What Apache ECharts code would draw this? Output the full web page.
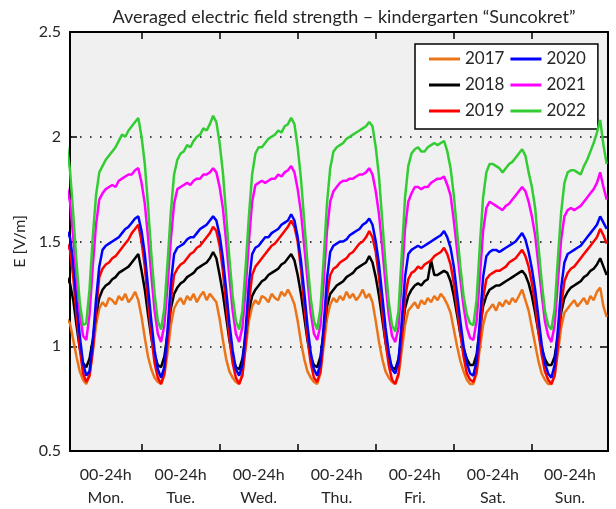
<!DOCTYPE html>
<html>
<head>
<meta charset="utf-8">
<script src="https://cdn.jsdelivr.net/npm/echarts@6/dist/echarts.min.js"></script>
<style>
html,body{margin:0;padding:0;background:#fff;}
#c{width:616px;height:509px;}
</style>
</head>
<body>
<div id="c"></div>
<script>
// Hourly values, Monday 00h .. Sunday 23h (x = hour of week)
const years = ['2017', '2018', '2019', '2020', '2021', '2022'];
const dayNames = ['Mon.', 'Tue.', 'Wed.', 'Thu.', 'Fri.', 'Sat.', 'Sun.'];
const dayTicks = [24, 48, 72, 96, 120, 144];
const labelPos = [13, 36, 60, 84, 108, 132, 155.7];

const y2017 = [
  1.16,1.13,1.11,1.03,0.95,0.88,0.84,0.82,0.86,0.97,1.10,1.18,1.21,1.19,1.23,1.22,1.20,1.24,1.22,1.25,1.21,1.23,1.26,1.22,
  1.14,1.04,0.95,0.89,0.85,0.83,0.82,0.86,0.97,1.10,1.18,1.21,1.23,1.20,1.24,1.22,1.25,1.21,1.24,1.26,1.22,1.25,1.23,1.21,
  1.13,1.03,0.94,0.88,0.85,0.83,0.82,0.87,0.99,1.12,1.19,1.22,1.20,1.24,1.23,1.21,1.25,1.23,1.22,1.26,1.24,1.27,1.24,1.20,
  1.12,1.02,0.94,0.88,0.85,0.83,0.82,0.87,1.00,1.13,1.20,1.23,1.21,1.24,1.22,1.26,1.23,1.25,1.22,1.24,1.27,1.23,1.25,1.21,
  1.12,1.02,0.94,0.88,0.85,0.83,0.82,0.86,0.98,1.10,1.17,1.19,1.21,1.18,1.22,1.20,1.23,1.21,1.24,1.22,1.25,1.23,1.20,1.16,
  1.08,1.00,0.93,0.88,0.84,0.82,0.82,0.87,0.99,1.10,1.16,1.18,1.20,1.17,1.21,1.19,1.22,1.20,1.23,1.21,1.24,1.27,1.22,1.17,
  1.09,1.01,0.93,0.87,0.84,0.82,0.82,0.86,0.97,1.09,1.16,1.18,1.20,1.22,1.19,1.21,1.23,1.20,1.24,1.22,1.26,1.28,1.19,1.14
];
const y2018 = [
  1.35,1.33,1.30,1.22,1.10,0.99,0.92,0.90,0.94,1.03,1.15,1.23,1.27,1.29,1.30,1.32,1.33,1.35,1.36,1.37,1.38,1.40,1.42,1.44,
  1.36,1.27,1.15,1.04,0.96,0.91,0.90,0.95,1.06,1.18,1.25,1.28,1.30,1.31,1.33,1.34,1.35,1.37,1.38,1.39,1.40,1.42,1.45,1.42,
  1.34,1.25,1.14,1.03,0.95,0.90,0.89,0.94,1.05,1.17,1.24,1.27,1.29,1.31,1.32,1.34,1.35,1.36,1.37,1.39,1.40,1.42,1.44,1.41,
  1.34,1.25,1.14,1.03,0.95,0.91,0.90,0.95,1.07,1.19,1.25,1.27,1.29,1.30,1.31,1.33,1.34,1.35,1.37,1.38,1.39,1.40,1.43,1.40,
  1.33,1.24,1.13,1.02,0.94,0.90,0.89,0.94,1.06,1.18,1.24,1.27,1.29,1.30,1.29,1.31,1.32,1.41,1.34,1.34,1.35,1.36,1.35,1.31,
  1.24,1.15,1.06,0.99,0.94,0.91,0.91,0.96,1.08,1.19,1.24,1.27,1.28,1.29,1.29,1.30,1.31,1.32,1.33,1.34,1.35,1.36,1.34,1.30,
  1.24,1.16,1.07,0.99,0.94,0.91,0.91,0.95,1.05,1.16,1.23,1.26,1.28,1.29,1.30,1.31,1.33,1.34,1.36,1.37,1.39,1.42,1.38,1.34
];
const y2019 = [
  1.52,1.49,1.46,1.33,1.15,0.99,0.87,0.83,0.86,0.98,1.17,1.33,1.37,1.39,1.40,1.42,1.43,1.45,1.47,1.49,1.51,1.54,1.56,1.58,
  1.50,1.38,1.21,1.05,0.92,0.85,0.82,0.87,1.02,1.22,1.34,1.37,1.39,1.40,1.42,1.44,1.45,1.47,1.48,1.50,1.52,1.54,1.57,1.55,
  1.48,1.36,1.20,1.04,0.92,0.85,0.82,0.86,1.01,1.21,1.34,1.38,1.40,1.42,1.44,1.46,1.48,1.49,1.51,1.53,1.55,1.57,1.60,1.57,
  1.50,1.37,1.20,1.04,0.92,0.85,0.83,0.88,1.04,1.24,1.34,1.37,1.38,1.40,1.41,1.42,1.44,1.45,1.47,1.49,1.50,1.52,1.55,1.52,
  1.45,1.33,1.17,1.02,0.91,0.84,0.82,0.87,1.04,1.23,1.32,1.35,1.36,1.38,1.37,1.39,1.40,1.41,1.43,1.44,1.45,1.47,1.44,1.39,
  1.30,1.18,1.06,0.95,0.87,0.84,0.83,0.88,1.04,1.23,1.32,1.34,1.35,1.36,1.36,1.37,1.38,1.40,1.41,1.42,1.44,1.46,1.43,1.38,
  1.30,1.20,1.07,0.96,0.88,0.84,0.82,0.86,1.00,1.19,1.31,1.35,1.37,1.38,1.40,1.42,1.44,1.46,1.48,1.50,1.52,1.56,1.53,1.49
];
const y2020 = [
  1.58,1.55,1.52,1.40,1.22,1.05,0.92,0.86,0.88,1.02,1.22,1.38,1.46,1.48,1.49,1.50,1.51,1.52,1.54,1.56,1.57,1.59,1.61,1.62,
  1.55,1.44,1.28,1.12,0.98,0.89,0.85,0.90,1.08,1.30,1.44,1.47,1.48,1.49,1.51,1.52,1.52,1.54,1.56,1.57,1.58,1.60,1.62,1.60,
  1.53,1.42,1.27,1.11,0.98,0.89,0.86,0.91,1.08,1.30,1.44,1.47,1.48,1.50,1.52,1.52,1.54,1.55,1.56,1.58,1.59,1.60,1.63,1.60,
  1.52,1.41,1.26,1.10,0.97,0.89,0.86,0.92,1.10,1.32,1.45,1.48,1.49,1.50,1.50,1.51,1.53,1.54,1.55,1.56,1.58,1.59,1.61,1.58,
  1.50,1.39,1.24,1.09,0.97,0.89,0.87,0.93,1.12,1.33,1.44,1.46,1.47,1.48,1.47,1.48,1.49,1.50,1.51,1.52,1.53,1.55,1.52,1.47,
  1.38,1.25,1.12,1.00,0.92,0.87,0.86,0.93,1.12,1.33,1.43,1.45,1.46,1.46,1.45,1.46,1.47,1.48,1.49,1.50,1.52,1.54,1.51,1.45,
  1.37,1.27,1.14,1.01,0.92,0.87,0.85,0.91,1.08,1.28,1.40,1.44,1.45,1.46,1.47,1.48,1.50,1.52,1.54,1.56,1.58,1.62,1.59,1.56
];
const y2021 = [
  1.80,1.76,1.69,1.52,1.33,1.16,1.05,1.03,1.15,1.38,1.58,1.70,1.73,1.75,1.76,1.77,1.76,1.79,1.80,1.81,1.82,1.82,1.84,1.85,
  1.78,1.68,1.52,1.34,1.17,1.06,1.02,1.10,1.29,1.51,1.68,1.75,1.76,1.77,1.78,1.77,1.79,1.80,1.80,1.82,1.82,1.83,1.85,1.83,
  1.76,1.66,1.50,1.33,1.17,1.06,1.02,1.09,1.27,1.50,1.69,1.77,1.78,1.79,1.78,1.79,1.80,1.80,1.82,1.81,1.83,1.84,1.86,1.83,
  1.75,1.64,1.48,1.32,1.16,1.06,1.03,1.10,1.31,1.55,1.69,1.74,1.76,1.78,1.79,1.79,1.80,1.80,1.81,1.82,1.82,1.83,1.85,1.82,
  1.74,1.63,1.47,1.30,1.15,1.05,1.02,1.09,1.32,1.56,1.69,1.73,1.76,1.76,1.75,1.76,1.76,1.78,1.79,1.80,1.80,1.81,1.77,1.72,
  1.60,1.46,1.32,1.19,1.09,1.04,1.03,1.12,1.33,1.55,1.66,1.69,1.68,1.67,1.66,1.65,1.67,1.68,1.70,1.72,1.74,1.76,1.74,1.69,
  1.62,1.53,1.39,1.25,1.12,1.05,1.02,1.10,1.31,1.51,1.62,1.65,1.66,1.65,1.66,1.67,1.69,1.71,1.73,1.75,1.78,1.83,1.76,1.70
];
const y2022 = [
  2.03,1.96,1.84,1.63,1.40,1.21,1.10,1.11,1.27,1.52,1.72,1.83,1.86,1.89,1.91,1.93,1.95,1.98,2.01,2.00,2.03,2.05,2.07,2.09,
  2.00,1.87,1.67,1.44,1.25,1.12,1.08,1.18,1.40,1.64,1.82,1.89,1.92,1.93,1.96,1.95,1.98,2.00,2.01,2.04,2.03,2.06,2.10,2.07,
  1.97,1.83,1.63,1.42,1.24,1.12,1.08,1.17,1.38,1.62,1.82,1.92,1.95,1.95,1.97,1.99,2.00,2.01,2.03,2.02,2.05,2.06,2.09,2.06,
  1.95,1.80,1.60,1.40,1.23,1.12,1.08,1.18,1.42,1.68,1.85,1.93,1.95,1.96,1.97,1.99,2.00,2.01,2.02,2.03,2.04,2.05,2.07,2.05,
  1.95,1.81,1.60,1.39,1.21,1.10,1.07,1.17,1.44,1.71,1.86,1.92,1.94,1.95,1.93,1.93,1.95,1.96,1.97,1.96,1.97,1.98,1.93,1.85,
  1.72,1.55,1.38,1.24,1.15,1.11,1.10,1.22,1.48,1.71,1.83,1.87,1.87,1.86,1.85,1.83,1.85,1.87,1.88,1.90,1.92,1.94,1.91,1.83,
  1.76,1.66,1.48,1.31,1.17,1.10,1.08,1.18,1.42,1.64,1.78,1.83,1.84,1.84,1.83,1.82,1.86,1.89,1.93,1.97,2.02,2.08,1.96,1.87
];

const seriesValues = [y2017, y2018, y2019, y2020, y2021, y2022];
const colors = ['#EC7418', '#000000', '#FF0000', '#0000FF', '#FF00FF', '#33CC33'];

const FONT = 'Lato';
const TXT = '#262626';

const chart = echarts.init(document.getElementById('c'), null, {renderer: 'canvas'});

const axisLineStyle = {show: true, onZero: false, lineStyle: {color: '#000', width: 2}};
const tickStyle = {show: true, inside: true, length: 7, lineStyle: {color: '#000', width: 1.5}};

const option = {
  animation: false,
  backgroundColor: '#fff',
  title: {
    text: 'Averaged electric field strength \u2013 kindergarten \u201cSuncokret\u201d',
    left: 339, top: 3, textAlign: 'center',
    textStyle: {fontFamily: FONT, fontSize: 18, fontWeight: 'normal', color: TXT}
  },
  legend: {
    data: ['2017', '2020', '2018', '2021', '2019', '2022'],
    left: 415, top: 44, width: 160,
    orient: 'horizontal',
    icon: 'rect', itemWidth: 31, itemHeight: 3, itemGap: 6,
    padding: [5, 12, 8, 14],
    backgroundColor: '#fff', borderColor: '#000', borderWidth: 1.5, borderRadius: 0,
    textStyle: {fontFamily: FONT, fontSize: 17, color: TXT, lineHeight: 20}
  },
  grid: {
    left: 70, right: 8, top: 32, bottom: 52,
    show: true, backgroundColor: '#f0f0f0', borderWidth: 0
  },
  xAxis: [{
    type: 'value', min: 2, max: 167.4, position: 'bottom',
    axisLine: axisLineStyle,
    axisTick: Object.assign({}, tickStyle, {customValues: dayTicks}),
    axisLabel: {
      customValues: labelPos, margin: 12,
      fontFamily: FONT, fontSize: 16, color: TXT, lineHeight: 23,
      formatter: function (v) {
        const d = Math.round((v - 12) / 24);
        return '00-24h\n' + dayNames[Math.max(0, Math.min(6, d))];
      }
    },
    splitLine: {show: false}
  }, {
    type: 'value', min: 2, max: 167.4, position: 'top',
    axisLine: axisLineStyle,
    axisTick: Object.assign({}, tickStyle, {customValues: dayTicks}),
    axisLabel: {show: false},
    splitLine: {show: false}
  }],
  yAxis: [{
    type: 'value', min: 0.5, max: 2.5, interval: 0.5, position: 'left',
    name: 'E [V/m]', nameLocation: 'middle', nameGap: 35, nameRotate: 90,
    nameTextStyle: {fontFamily: FONT, fontSize: 16, color: TXT},
    axisLine: axisLineStyle,
    axisTick: tickStyle,
    axisLabel: {fontFamily: FONT, fontSize: 16, color: TXT, margin: 9},
    splitLine: {show: true, showMinLine: false, showMaxLine: false,
      lineStyle: {color: '#000', width: 1.5, type: [1.5, 8.5]}}
  }, {
    type: 'value', min: 0.5, max: 2.5, interval: 0.5, position: 'right',
    axisLine: axisLineStyle,
    axisTick: tickStyle,
    axisLabel: {show: false},
    splitLine: {show: false}
  }],
  series: years.map(function (name, k) {
    return {
      name: name, type: 'line', xAxisIndex: 0, yAxisIndex: 0,
      data: seriesValues[k].map(function (v, i) { return [i, v]; }),
      showSymbol: false, symbol: 'none', clip: true,
      lineStyle: {color: colors[k], width: 2.5},
      itemStyle: {color: colors[k]},
      emphasis: {disabled: true},
      z: 2 + k
    };
  })
};
chart.setOption(option);
</script>
</body>
</html>
